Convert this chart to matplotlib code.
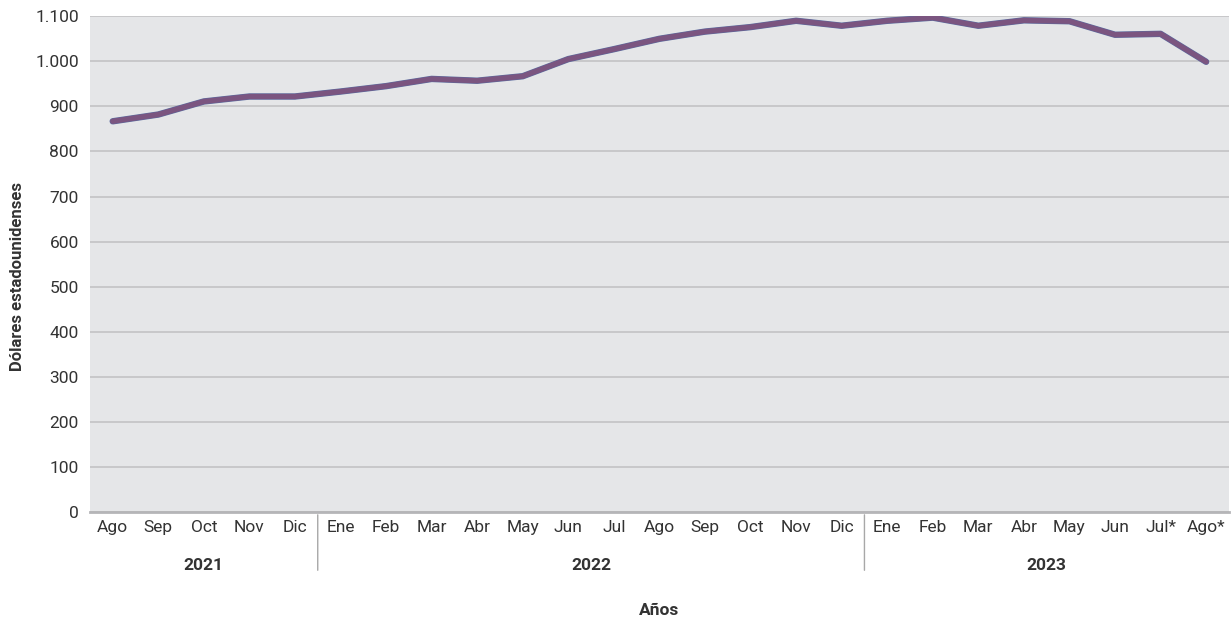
import matplotlib
matplotlib.use("Agg")
import matplotlib.pyplot as plt
from matplotlib import font_manager
from matplotlib.ticker import FuncFormatter, MultipleLocator

months = ["Ago", "Sep", "Oct", "Nov", "Dic",
          "Ene", "Feb", "Mar", "Abr", "May", "Jun", "Jul", "Ago", "Sep", "Oct", "Nov", "Dic",
          "Ene", "Feb", "Mar", "Abr", "May", "Jun", "Jul*", "Ago*"]
values = [867, 882, 911, 922, 922,
          933, 945, 961, 957, 967, 1005, 1027, 1050, 1066, 1076, 1090, 1079,
          1090, 1097, 1079, 1091, 1089, 1059, 1061, 999]
years = ["2021", "2022", "2023"]
year_counts = [5, 12, 8]

names = {f.name for f in font_manager.fontManager.ttflist}
fam = "Liberation Sans Narrow" if "Liberation Sans Narrow" in names else "Roboto"
plt.rcParams['font.family'] = [fam, 'DejaVu Sans']

txt = "#333333"
fig = plt.figure(figsize=(12.32, 6.26), dpi=100)
ax = fig.add_axes([0.073, 0.182, 0.9245, 0.792])
ax.set_facecolor("#E5E6E8")

x = list(range(len(values)))
ax.plot(x, values, color="#5B6A9E", lw=4.6, solid_capstyle="round", solid_joinstyle="round", zorder=3)
ax.plot(x, values, color="#7B5580", lw=3.8, solid_capstyle="round", solid_joinstyle="round", zorder=4)

ax.set_xlim(-0.5, len(values) - 0.5)
ax.set_ylim(0, 1100)
ax.yaxis.set_major_locator(MultipleLocator(100))
ax.yaxis.set_major_formatter(FuncFormatter(lambda v, p: f"{int(v):,}".replace(",", ".")))
ax.grid(axis="y", color="#C3C3C5", lw=1.2, zorder=1)
ax.set_axisbelow(True)
for s in ["top", "right", "left"]:
    ax.spines[s].set_visible(False)
ax.spines["bottom"].set_color("#B5B5B8")
ax.spines["bottom"].set_linewidth(2)

ax.set_xticks(x)
ax.set_xticklabels(months, fontsize=12.5, color=txt)
ax.tick_params(axis="x", length=0, pad=6)
ax.tick_params(axis="y", length=0, labelsize=12.5, labelcolor=txt, pad=8)

# year groups
start = 0
for i, (yr, n) in enumerate(zip(years, year_counts)):
    center = start + (n - 1) / 2
    ax.annotate(yr, xy=(center, 0), xycoords=("data", "axes fraction"),
                xytext=(0, -38.5), textcoords="offset points", ha="center", va="center",
                fontsize=12.5, fontweight="bold", color=txt, annotation_clip=False)
    if i > 0:
        ax.annotate("", xy=(start - 0.5, 0), xycoords=("data", "axes fraction"),
                    xytext=(start - 0.5, -0.123), textcoords=("data", "axes fraction"),
                    arrowprops=dict(arrowstyle="-", color="#A8A8A8", lw=1.0),
                    annotation_clip=False)
    start += n

ax.set_xlabel("Años", fontsize=12.5, fontweight="bold", color=txt, labelpad=49)
fig.text(18 / 1232, 1 - 277 / 626, "Dólares estadounidenses", rotation=90,
         ha="center", va="center", fontsize=12, fontweight="bold", color=txt)

fig.savefig("out.png", dpi=100)
